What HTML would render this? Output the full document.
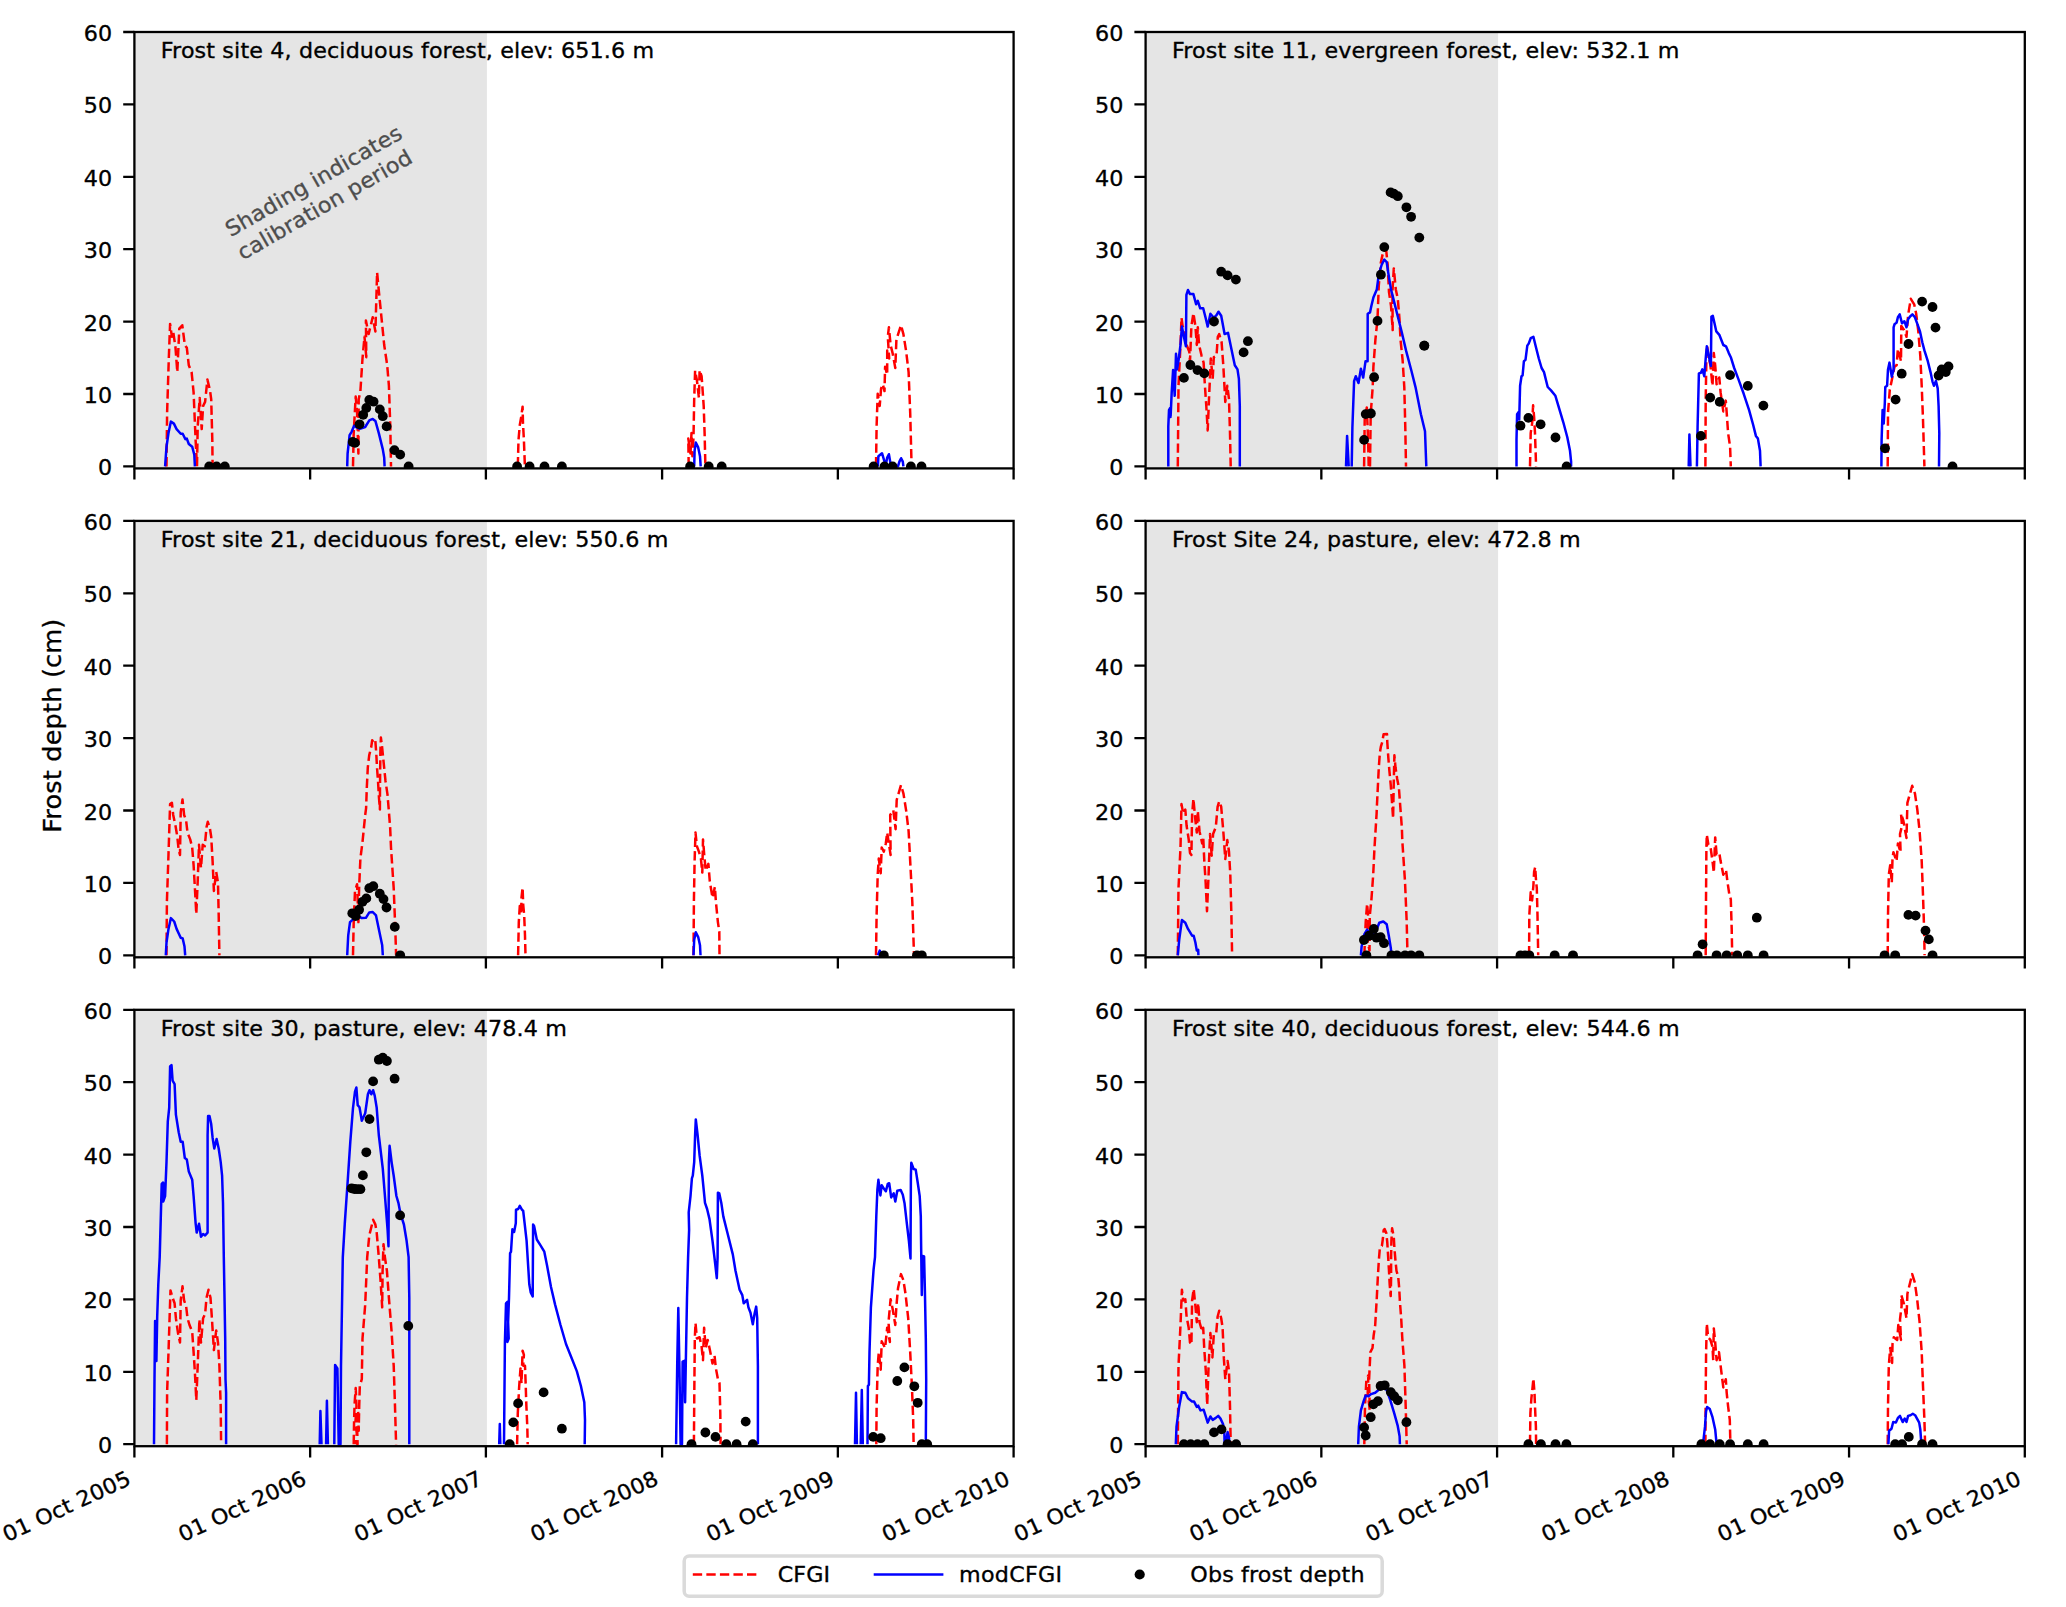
<!DOCTYPE html><html><head><meta charset="utf-8"><title>Frost depth</title>
<style>html,body{margin:0;padding:0;background:#fff}svg{display:block}text{font-family:"DejaVu Sans","Liberation Sans",sans-serif;fill:#000;stroke:#000;stroke-width:0.35px}</style></head><body>
<svg width="2066" height="1607" viewBox="0 0 2066 1607">
<rect width="2066" height="1607" fill="#fff"/>
<defs>
<clipPath id="c0"><rect x="134.4" y="32.0" width="879.2" height="436.4"/></clipPath>
<clipPath id="c1"><rect x="1145.6" y="32.0" width="879.2" height="436.4"/></clipPath>
<clipPath id="c2"><rect x="134.4" y="520.9" width="879.2" height="436.4"/></clipPath>
<clipPath id="c3"><rect x="1145.6" y="520.9" width="879.2" height="436.4"/></clipPath>
<clipPath id="c4"><rect x="134.4" y="1009.8" width="879.2" height="436.4"/></clipPath>
<clipPath id="c5"><rect x="1145.6" y="1009.8" width="879.2" height="436.4"/></clipPath>
</defs>
<g id="panel0">
<rect x="134.4" y="32.0" width="352.5" height="436.4" fill="#e5e5e5"/>
<g clip-path="url(#c0)" fill="none" stroke-linejoin="round">
<path d="M166.5,466.4 L167.1,412.8 L168.8,358.5 L170.1,323.9 L171.9,336.8 L173.2,331.4 L175.5,347.7 L177.3,372.1 L179.3,328.7 L182.3,325.3 L184.8,345.0 L186.8,347.7 L188.8,365.3 L191.6,372.1 L193.6,392.4 L195.6,439.9 L197.0,466.4 L197.7,426.4 L199.7,397.9 L201.7,429.1 L203.1,406.0 L205.1,401.9 L207.4,379.6 L209.9,389.7 L211.2,399.2 L212.3,439.9 L212.6,466.4" stroke="#ff0000" stroke-width="2.5" stroke-dasharray="9.35 4.2"/>
<path d="M353.0,466.4 L353.7,433.1 L355.7,396.5 L357.1,412.8 L358.4,453.5 L358.7,399.2 L360.4,391.1 L362.5,358.5 L364.5,336.8 L366.3,357.2 L365.9,320.5 L368.6,334.1 L370.6,326.0 L372.7,317.2 L375.4,331.4 L377.1,272.4 L378.8,290.7 L381.5,317.8 L384.2,345.0 L387.2,365.3 L388.9,385.7 L390.3,426.4 L391.0,466.4" stroke="#ff0000" stroke-width="2.5" stroke-dasharray="9.35 4.2"/>
<path d="M517.8,466.4 L518.5,439.9 L519.8,425.0 L521.2,416.9 L522.6,406.7 L523.0,423.6 L523.9,439.9 L524.9,466.4" stroke="#ff0000" stroke-width="2.5" stroke-dasharray="9.35 4.2"/>
<path d="M688.7,466.4 L688.3,438.6 L690.5,453.5 L691.5,433.1 L692.4,456.2 L693.5,437.2 L694.2,399.2 L695.1,370.7 L696.9,380.2 L698.9,397.9 L699.6,370.1 L701.6,376.2 L702.3,385.7 L703.7,406.0 L704.6,433.1 L705.4,466.4" stroke="#ff0000" stroke-width="2.5" stroke-dasharray="9.35 4.2"/>
<path d="M876.0,466.4 L876.6,426.4 L877.7,393.8 L879.7,406.0 L881.1,388.4 L882.8,384.3 L884.5,391.1 L885.1,366.7 L887.2,374.8 L887.2,350.4 L889.2,358.5 L887.8,336.8 L888.9,327.3 L890.6,345.0 L892.6,353.1 L895.3,368.0 L896.4,339.5 L901.0,325.3 L903.4,334.1 L906.2,351.7 L908.6,372.1 L910.2,412.8 L911.6,466.4" stroke="#ff0000" stroke-width="2.5" stroke-dasharray="9.35 4.2"/>
<path d="M165.1,466.4 L166.5,446.7 L168.5,433.1 L170.9,421.6 L173.9,423.6 L176.6,429.1 L180.7,433.8 L182.7,433.8 L185.4,439.2 L186.8,438.6 L188.8,444.0 L192.2,446.7 L194.3,454.8 L194.9,466.4" stroke="#0000ff" stroke-width="2.5"/>
<path d="M347.2,466.4 L347.6,453.5 L349.6,435.2 L351.6,431.8 L354.1,425.7 L357.1,427.7 L359.8,428.8 L365.2,427.0 L369.3,420.3 L372.7,418.9 L375.4,420.9 L378.8,433.1 L382.8,449.4 L384.2,457.6 L384.6,466.4" stroke="#0000ff" stroke-width="2.5"/>
<path d="M694.2,466.4 L694.6,450.8 L695.8,442.6 L698.2,447.4 L700.0,456.2 L700.7,466.4" stroke="#0000ff" stroke-width="2.5"/>
<path d="M877.9,466.4 L878.4,456.2 L882.0,453.2 L884.5,461.6 L885.5,466.4 L887.2,457.6 L888.9,454.2 L890.2,461.6 L890.6,466.4 L898.0,466.4 L899.4,461.6 L901.1,458.2 L902.8,461.6 L903.4,466.4" stroke="#0000ff" stroke-width="2.5"/>
<g fill="#000" stroke="none">
<circle cx="209.2" cy="466.4" r="4.9"/>
<circle cx="216.6" cy="466.4" r="4.9"/>
<circle cx="224.8" cy="466.4" r="4.9"/>
<circle cx="352.7" cy="442.0" r="4.9"/>
<circle cx="355.0" cy="442.9" r="4.9"/>
<circle cx="359.5" cy="424.3" r="4.9"/>
<circle cx="363.2" cy="414.8" r="4.9"/>
<circle cx="366.3" cy="408.0" r="4.9"/>
<circle cx="369.3" cy="399.9" r="4.9"/>
<circle cx="373.6" cy="401.7" r="4.9"/>
<circle cx="379.8" cy="409.4" r="4.9"/>
<circle cx="382.8" cy="416.2" r="4.9"/>
<circle cx="386.6" cy="426.4" r="4.9"/>
<circle cx="394.4" cy="450.1" r="4.9"/>
<circle cx="400.2" cy="454.6" r="4.9"/>
<circle cx="408.6" cy="466.4" r="4.9"/>
<circle cx="517.1" cy="466.4" r="4.9"/>
<circle cx="529.6" cy="466.4" r="4.9"/>
<circle cx="544.5" cy="466.4" r="4.9"/>
<circle cx="561.9" cy="466.4" r="4.9"/>
<circle cx="690.1" cy="466.4" r="4.9"/>
<circle cx="708.7" cy="466.4" r="4.9"/>
<circle cx="721.7" cy="466.4" r="4.9"/>
<circle cx="873.6" cy="466.4" r="4.9"/>
<circle cx="884.5" cy="466.4" r="4.9"/>
<circle cx="892.6" cy="466.4" r="4.9"/>
<circle cx="910.9" cy="466.4" r="4.9"/>
<circle cx="921.5" cy="466.4" r="4.9"/>
</g></g>
<rect x="134.4" y="32.0" width="879.2" height="436.4" fill="none" stroke="#000" stroke-width="2.3"/>
<path d="M134.4,466.40 h-11.2 M134.4,394.00 h-11.2 M134.4,321.60 h-11.2 M134.4,249.20 h-11.2 M134.4,176.80 h-11.2 M134.4,104.40 h-11.2 M134.4,32.00 h-11.2 M134.40,468.4 v11.2 M310.14,468.4 v11.2 M485.89,468.4 v11.2 M662.11,468.4 v11.2 M837.86,468.4 v11.2 M1013.60,468.4 v11.2" stroke="#000" stroke-width="2.3" fill="none"/>
<text transform="translate(112.4,475.4) scale(1,0.96)" font-size="22.2" text-anchor="end" letter-spacing="0.15">0</text>
<text transform="translate(112.4,403.0) scale(1,0.96)" font-size="22.2" text-anchor="end" letter-spacing="0.15">10</text>
<text transform="translate(112.4,330.6) scale(1,0.96)" font-size="22.2" text-anchor="end" letter-spacing="0.15">20</text>
<text transform="translate(112.4,258.2) scale(1,0.96)" font-size="22.2" text-anchor="end" letter-spacing="0.15">30</text>
<text transform="translate(112.4,185.8) scale(1,0.96)" font-size="22.2" text-anchor="end" letter-spacing="0.15">40</text>
<text transform="translate(112.4,113.4) scale(1,0.96)" font-size="22.2" text-anchor="end" letter-spacing="0.15">50</text>
<text transform="translate(112.4,41.0) scale(1,0.96)" font-size="22.2" text-anchor="end" letter-spacing="0.15">60</text>
<text transform="translate(160.8,58.0) scale(1,0.96)" font-size="22.2" text-anchor="start" letter-spacing="0.15">Frost site 4, deciduous forest, elev: 651.6 m</text>
</g>
<g id="panel1">
<rect x="1145.6" y="32.0" width="352.5" height="436.4" fill="#e5e5e5"/>
<g clip-path="url(#c1)" fill="none" stroke-linejoin="round">
<path d="M1177.8,466.4 L1178.5,385.7 L1180.5,345.0 L1181.5,317.8 L1182.6,326.0 L1184.6,331.4 L1186.6,345.0 L1189.3,351.7 L1190.0,361.2 L1191.4,326.0 L1193.4,313.1 L1195.4,326.0 L1196.8,345.0 L1197.8,327.3 L1199.1,345.0 L1201.6,355.8 L1203.6,362.6 L1204.9,385.7 L1206.3,406.0 L1207.7,430.4 L1209.0,399.2 L1210.8,358.5 L1212.7,378.9 L1213.8,357.2 L1216.5,355.8 L1217.8,336.8 L1219.2,334.1 L1221.6,342.2 L1223.3,365.3 L1225.3,401.9 L1227.3,385.7 L1229.0,399.2 L1230.0,433.1 L1230.7,466.4" stroke="#ff0000" stroke-width="2.5" stroke-dasharray="9.35 4.2"/>
<path d="M1364.1,466.4 L1364.7,419.6 L1366.8,407.4 L1368.1,439.9 L1368.7,466.4" stroke="#ff0000" stroke-width="2.5" stroke-dasharray="9.35 4.2"/>
<path d="M1370.0,466.4 L1370.7,414.2 L1372.7,387.1 L1373.4,366.7 L1375.4,339.6 L1377.5,319.2 L1378.8,285.3 L1380.9,262.2 L1383.6,250.0 L1386.3,251.4 L1387.7,265.0 L1389.0,292.1 L1391.0,305.7 L1392.7,330.1 L1392.4,292.1 L1393.8,268.4 L1395.8,289.4 L1397.8,298.9 L1399.5,319.2 L1400.5,339.6 L1402.6,359.9 L1404.3,387.1 L1405.3,427.8 L1406.0,466.4" stroke="#ff0000" stroke-width="2.5" stroke-dasharray="9.35 4.2"/>
<path d="M1530.0,466.4 L1530.7,433.1 L1532.1,423.6 L1533.1,405.3 L1534.1,416.9 L1535.0,433.1 L1536.1,466.4" stroke="#ff0000" stroke-width="2.5" stroke-dasharray="9.35 4.2"/>
<path d="M1705.4,466.4 L1705.7,399.2 L1706.4,358.5 L1707.1,345.6 L1708.4,355.8 L1710.4,365.3 L1712.5,385.7 L1713.8,353.1 L1715.2,365.3 L1716.6,384.3 L1719.3,377.5 L1720.6,392.4 L1723.3,411.4 L1725.8,400.6 L1726.7,412.8 L1728.1,433.1 L1730.1,446.7 L1730.8,466.4" stroke="#ff0000" stroke-width="2.5" stroke-dasharray="9.35 4.2"/>
<path d="M1887.7,466.4 L1888.0,412.8 L1889.8,389.7 L1891.8,380.2 L1894.5,366.7 L1896.6,365.3 L1897.9,349.0 L1901.0,361.2 L1901.3,326.0 L1904.0,330.0 L1906.5,336.8 L1908.1,315.1 L1910.8,298.8 L1914.2,304.3 L1916.2,313.8 L1918.3,331.4 L1920.3,355.8 L1921.7,385.7 L1923.0,419.6 L1924.4,466.4" stroke="#ff0000" stroke-width="2.5" stroke-dasharray="9.35 4.2"/>
<path d="M1168.3,466.4 L1168.3,426.4 L1169.0,410.1 L1170.1,408.0 L1170.6,416.9 L1171.7,392.4 L1173.1,370.1 L1174.7,395.8 L1176.0,353.8 L1177.1,369.4 L1178.8,358.5 L1180.5,345.0 L1181.9,326.6 L1183.9,336.8 L1185.9,346.3 L1186.4,294.8 L1188.0,290.0 L1190.0,294.1 L1193.4,294.1 L1196.1,304.3 L1197.8,300.9 L1200.2,308.3 L1203.2,308.3 L1205.6,317.8 L1207.7,326.6 L1210.4,313.8 L1213.8,317.8 L1216.5,315.1 L1218.5,311.7 L1221.2,315.8 L1224.6,334.1 L1228.0,332.8 L1230.0,342.2 L1232.8,355.8 L1234.8,365.3 L1237.5,369.4 L1238.9,378.9 L1239.8,406.0 L1239.8,466.4" stroke="#0000ff" stroke-width="2.5"/>
<path d="M1346.0,466.4 L1347.1,435.9 L1348.7,466.4" stroke="#0000ff" stroke-width="2.5"/>
<path d="M1351.7,466.4 L1352.4,427.2 L1354.1,381.1 L1355.8,376.2 L1358.5,383.0 L1360.9,368.7 L1363.2,377.6 L1365.5,361.3 L1367.6,361.3 L1367.7,313.8 L1370.0,312.4 L1371.4,305.7 L1373.4,297.5 L1376.8,289.4 L1378.8,274.5 L1381.6,265.0 L1384.3,259.5 L1386.7,262.2 L1388.3,273.1 L1391.0,289.4 L1394.4,302.9 L1397.8,316.5 L1401.9,332.8 L1406.0,350.4 L1411.4,370.8 L1415.5,387.1 L1420.9,414.2 L1425.0,431.3 L1426.3,466.4" stroke="#0000ff" stroke-width="2.5"/>
<path d="M1516.5,466.4 L1516.5,439.9 L1517.1,414.1 L1518.5,412.1 L1519.2,419.6 L1520.1,385.7 L1521.5,376.2 L1522.6,375.5 L1523.9,361.2 L1525.5,359.9 L1527.3,345.6 L1528.7,343.6 L1530.7,338.2 L1533.4,336.8 L1535.4,345.0 L1538.8,358.5 L1541.6,368.0 L1544.0,372.1 L1547.7,387.0 L1551.0,390.4 L1555.4,395.8 L1559.2,408.7 L1563.3,422.3 L1567.3,437.2 L1570.0,450.8 L1571.1,461.6 L1571.1,466.4" stroke="#0000ff" stroke-width="2.5"/>
<path d="M1688.7,466.4 L1689.4,434.5 L1690.5,466.4" stroke="#0000ff" stroke-width="2.5"/>
<path d="M1696.9,466.4 L1697.6,426.4 L1698.9,373.4 L1700.9,372.8 L1702.3,369.4 L1704.3,376.2 L1705.7,358.5 L1706.8,346.3 L1708.7,355.8 L1710.9,366.0 L1711.4,316.5 L1712.8,315.8 L1714.5,323.3 L1716.3,331.4 L1719.3,334.8 L1723.3,345.0 L1726.0,346.3 L1728.8,353.1 L1730.8,357.2 L1734.2,368.0 L1738.3,378.9 L1743.7,393.8 L1749.1,410.1 L1753.2,425.0 L1755.9,435.9 L1757.9,438.6 L1760.0,450.8 L1760.6,466.4" stroke="#0000ff" stroke-width="2.5"/>
<path d="M1881.4,466.4 L1881.6,439.9 L1882.6,410.1 L1883.7,423.6 L1884.8,403.3 L1885.3,387.0 L1887.1,385.7 L1888.0,369.4 L1889.5,362.6 L1891.8,376.8 L1893.6,369.4 L1893.6,327.3 L1894.5,324.3 L1896.6,322.6 L1897.9,317.2 L1899.7,314.4 L1902.0,323.3 L1904.4,321.2 L1906.5,327.3 L1908.1,319.2 L1910.1,316.5 L1912.4,314.4 L1914.9,317.2 L1917.6,324.6 L1920.0,331.4 L1922.3,342.2 L1924.4,350.4 L1927.8,361.2 L1930.5,372.1 L1932.5,381.6 L1933.9,385.7 L1935.9,380.9 L1937.7,388.4 L1938.6,406.0 L1939.3,433.1 L1939.0,466.4" stroke="#0000ff" stroke-width="2.5"/>
<g fill="#000" stroke="none">
<circle cx="1183.9" cy="377.9" r="4.9"/>
<circle cx="1190.4" cy="365.0" r="4.9"/>
<circle cx="1197.5" cy="370.1" r="4.9"/>
<circle cx="1204.3" cy="373.4" r="4.9"/>
<circle cx="1214.0" cy="321.5" r="4.9"/>
<circle cx="1221.2" cy="271.7" r="4.9"/>
<circle cx="1227.6" cy="275.4" r="4.9"/>
<circle cx="1235.9" cy="279.6" r="4.9"/>
<circle cx="1243.6" cy="352.4" r="4.9"/>
<circle cx="1247.9" cy="341.2" r="4.9"/>
<circle cx="1364.1" cy="439.9" r="4.9"/>
<circle cx="1365.7" cy="414.1" r="4.9"/>
<circle cx="1370.9" cy="413.5" r="4.9"/>
<circle cx="1374.1" cy="377.2" r="4.9"/>
<circle cx="1377.5" cy="320.9" r="4.9"/>
<circle cx="1380.9" cy="274.7" r="4.9"/>
<circle cx="1424.3" cy="345.6" r="4.9"/>
<circle cx="1384.3" cy="247.1" r="4.9"/>
<circle cx="1390.6" cy="192.4" r="4.9"/>
<circle cx="1393.8" cy="193.7" r="4.9"/>
<circle cx="1397.8" cy="196.2" r="4.9"/>
<circle cx="1406.4" cy="207.3" r="4.9"/>
<circle cx="1411.1" cy="216.8" r="4.9"/>
<circle cx="1419.3" cy="237.6" r="4.9"/>
<circle cx="1424.3" cy="345.7" r="4.9"/>
<circle cx="1520.5" cy="425.7" r="4.9"/>
<circle cx="1528.4" cy="417.9" r="4.9"/>
<circle cx="1540.6" cy="424.3" r="4.9"/>
<circle cx="1555.5" cy="437.5" r="4.9"/>
<circle cx="1566.6" cy="466.4" r="4.9"/>
<circle cx="1700.9" cy="435.9" r="4.9"/>
<circle cx="1710.2" cy="397.6" r="4.9"/>
<circle cx="1719.7" cy="401.9" r="4.9"/>
<circle cx="1730.1" cy="375.1" r="4.9"/>
<circle cx="1747.8" cy="385.9" r="4.9"/>
<circle cx="1763.4" cy="405.6" r="4.9"/>
<circle cx="1885.0" cy="448.3" r="4.9"/>
<circle cx="1895.6" cy="399.6" r="4.9"/>
<circle cx="1901.7" cy="373.7" r="4.9"/>
<circle cx="1908.5" cy="344.0" r="4.9"/>
<circle cx="1922.1" cy="301.6" r="4.9"/>
<circle cx="1932.5" cy="307.0" r="4.9"/>
<circle cx="1935.5" cy="327.6" r="4.9"/>
<circle cx="1938.6" cy="375.5" r="4.9"/>
<circle cx="1941.7" cy="369.4" r="4.9"/>
<circle cx="1945.8" cy="372.1" r="4.9"/>
<circle cx="1948.5" cy="366.4" r="4.9"/>
<circle cx="1952.5" cy="466.4" r="4.9"/>
</g></g>
<rect x="1145.6" y="32.0" width="879.2" height="436.4" fill="none" stroke="#000" stroke-width="2.3"/>
<path d="M1145.6,466.40 h-11.2 M1145.6,394.00 h-11.2 M1145.6,321.60 h-11.2 M1145.6,249.20 h-11.2 M1145.6,176.80 h-11.2 M1145.6,104.40 h-11.2 M1145.6,32.00 h-11.2 M1145.60,468.4 v11.2 M1321.34,468.4 v11.2 M1497.09,468.4 v11.2 M1673.31,468.4 v11.2 M1849.06,468.4 v11.2 M2024.80,468.4 v11.2" stroke="#000" stroke-width="2.3" fill="none"/>
<text transform="translate(1123.6,475.4) scale(1,0.96)" font-size="22.2" text-anchor="end" letter-spacing="0.15">0</text>
<text transform="translate(1123.6,403.0) scale(1,0.96)" font-size="22.2" text-anchor="end" letter-spacing="0.15">10</text>
<text transform="translate(1123.6,330.6) scale(1,0.96)" font-size="22.2" text-anchor="end" letter-spacing="0.15">20</text>
<text transform="translate(1123.6,258.2) scale(1,0.96)" font-size="22.2" text-anchor="end" letter-spacing="0.15">30</text>
<text transform="translate(1123.6,185.8) scale(1,0.96)" font-size="22.2" text-anchor="end" letter-spacing="0.15">40</text>
<text transform="translate(1123.6,113.4) scale(1,0.96)" font-size="22.2" text-anchor="end" letter-spacing="0.15">50</text>
<text transform="translate(1123.6,41.0) scale(1,0.96)" font-size="22.2" text-anchor="end" letter-spacing="0.15">60</text>
<text transform="translate(1172.0,58.0) scale(1,0.96)" font-size="22.2" text-anchor="start" letter-spacing="0.15">Frost site 11, evergreen forest, elev: 532.1 m</text>
</g>
<g id="panel2">
<rect x="134.4" y="520.9" width="352.5" height="436.4" fill="#e5e5e5"/>
<g clip-path="url(#c2)" fill="none" stroke-linejoin="round">
<path d="M166.5,955.3 L166.9,901.8 L168.5,854.3 L170.1,804.1 L171.9,802.8 L173.2,815.0 L175.5,825.8 L177.3,836.7 L178.7,850.2 L180.0,855.0 L180.7,812.3 L182.5,799.4 L184.1,815.0 L186.1,820.4 L187.5,832.6 L190.2,839.4 L192.2,847.5 L193.6,865.2 L194.9,888.2 L196.3,914.0 L197.7,881.4 L199.0,844.8 L201.0,867.9 L202.7,844.8 L204.8,846.2 L206.5,827.2 L207.8,821.8 L209.9,828.5 L211.2,836.7 L212.6,861.1 L213.9,890.9 L216.2,871.9 L218.0,882.8 L218.7,915.4 L219.4,955.3" stroke="#ff0000" stroke-width="2.5" stroke-dasharray="9.35 4.2"/>
<path d="M353.0,955.3 L353.7,922.1 L355.0,890.9 L357.1,884.2 L358.4,922.1 L359.1,888.2 L360.4,858.4 L362.5,842.1 L365.2,815.0 L366.1,808.2 L366.8,787.8 L367.8,767.5 L369.2,755.3 L371.2,747.1 L372.2,740.3 L373.6,742.4 L375.3,740.3 L376.3,753.9 L377.0,767.5 L378.0,781.0 L379.0,798.0 L379.9,809.5 L380.0,787.8 L380.2,767.5 L380.4,750.5 L380.9,737.6 L382.1,747.1 L383.8,764.1 L385.5,781.0 L387.5,794.6 L388.9,811.6 L390.2,828.5 L391.0,847.5 L393.7,888.2 L395.3,928.9 L396.1,955.3" stroke="#ff0000" stroke-width="2.5" stroke-dasharray="9.35 4.2"/>
<path d="M518.1,955.3 L518.8,922.1 L519.8,905.9 L521.2,911.3 L521.5,897.7 L522.6,887.5 L523.2,904.5 L524.2,915.4 L525.0,935.7 L525.5,955.3" stroke="#ff0000" stroke-width="2.5" stroke-dasharray="9.35 4.2"/>
<path d="M693.5,955.3 L693.9,901.8 L694.6,861.1 L695.5,832.6 L696.9,846.2 L698.9,851.6 L700.9,858.4 L702.3,872.6 L703.0,839.4 L704.3,855.7 L705.7,870.6 L708.4,863.8 L709.8,881.4 L712.5,897.7 L714.9,886.9 L715.9,901.8 L717.9,922.1 L719.3,931.6 L719.5,955.3" stroke="#ff0000" stroke-width="2.5" stroke-dasharray="9.35 4.2"/>
<path d="M876.0,955.3 L876.6,915.4 L877.7,874.7 L878.8,858.4 L880.7,873.3 L881.7,847.5 L883.8,851.6 L885.8,843.5 L887.2,832.6 L890.6,855.0 L890.2,815.0 L893.3,810.2 L895.6,829.2 L896.7,800.0 L901.0,785.1 L903.4,793.3 L906.2,810.9 L908.6,831.2 L910.2,861.1 L912.3,901.8 L914.0,955.3" stroke="#ff0000" stroke-width="2.5" stroke-dasharray="9.35 4.2"/>
<path d="M165.8,955.3 L166.5,942.5 L168.5,928.9 L170.9,918.1 L174.2,921.5 L176.6,928.9 L180.7,937.7 L182.7,938.4 L184.5,946.6 L185.2,955.3" stroke="#0000ff" stroke-width="2.5"/>
<path d="M347.2,955.3 L348.2,935.7 L350.0,922.1 L353.0,919.4 L357.1,915.4 L361.8,918.1 L365.9,917.8 L369.3,912.4 L372.7,912.0 L376.0,915.4 L378.8,928.9 L382.2,945.2 L382.8,955.3" stroke="#0000ff" stroke-width="2.5"/>
<path d="M693.5,955.3 L694.2,939.8 L695.8,932.3 L698.2,937.1 L700.0,945.2 L700.5,955.3" stroke="#0000ff" stroke-width="2.5"/>
<path d="M877.9,955.3 L879.7,950.6 L881.7,955.3" stroke="#0000ff" stroke-width="2.5"/>
<g fill="#000" stroke="none">
<circle cx="352.3" cy="913.3" r="4.9"/>
<circle cx="355.7" cy="916.0" r="4.9"/>
<circle cx="359.1" cy="909.7" r="4.9"/>
<circle cx="362.5" cy="901.8" r="4.9"/>
<circle cx="366.3" cy="898.4" r="4.9"/>
<circle cx="369.3" cy="888.2" r="4.9"/>
<circle cx="373.3" cy="886.2" r="4.9"/>
<circle cx="379.8" cy="893.7" r="4.9"/>
<circle cx="383.5" cy="899.1" r="4.9"/>
<circle cx="386.5" cy="907.5" r="4.9"/>
<circle cx="394.8" cy="926.9" r="4.9"/>
<circle cx="400.2" cy="955.3" r="4.9"/>
<circle cx="883.8" cy="955.3" r="4.9"/>
<circle cx="917.0" cy="955.3" r="4.9"/>
<circle cx="921.8" cy="955.3" r="4.9"/>
</g></g>
<rect x="134.4" y="520.9" width="879.2" height="436.4" fill="none" stroke="#000" stroke-width="2.3"/>
<path d="M134.4,955.30 h-11.2 M134.4,882.90 h-11.2 M134.4,810.50 h-11.2 M134.4,738.10 h-11.2 M134.4,665.70 h-11.2 M134.4,593.30 h-11.2 M134.4,520.90 h-11.2 M134.40,957.3 v11.2 M310.14,957.3 v11.2 M485.89,957.3 v11.2 M662.11,957.3 v11.2 M837.86,957.3 v11.2 M1013.60,957.3 v11.2" stroke="#000" stroke-width="2.3" fill="none"/>
<text transform="translate(112.4,964.3) scale(1,0.96)" font-size="22.2" text-anchor="end" letter-spacing="0.15">0</text>
<text transform="translate(112.4,891.9) scale(1,0.96)" font-size="22.2" text-anchor="end" letter-spacing="0.15">10</text>
<text transform="translate(112.4,819.5) scale(1,0.96)" font-size="22.2" text-anchor="end" letter-spacing="0.15">20</text>
<text transform="translate(112.4,747.1) scale(1,0.96)" font-size="22.2" text-anchor="end" letter-spacing="0.15">30</text>
<text transform="translate(112.4,674.7) scale(1,0.96)" font-size="22.2" text-anchor="end" letter-spacing="0.15">40</text>
<text transform="translate(112.4,602.3) scale(1,0.96)" font-size="22.2" text-anchor="end" letter-spacing="0.15">50</text>
<text transform="translate(112.4,529.9) scale(1,0.96)" font-size="22.2" text-anchor="end" letter-spacing="0.15">60</text>
<text transform="translate(160.8,546.9) scale(1,0.96)" font-size="22.2" text-anchor="start" letter-spacing="0.15">Frost site 21, deciduous forest, elev: 550.6 m</text>
</g>
<g id="panel3">
<rect x="1145.6" y="520.9" width="352.5" height="436.4" fill="#e5e5e5"/>
<g clip-path="url(#c3)" fill="none" stroke-linejoin="round">
<path d="M1177.8,955.3 L1178.5,888.2 L1180.5,847.5 L1181.5,804.1 L1183.2,813.6 L1185.3,809.5 L1186.6,825.8 L1188.7,839.4 L1190.0,853.0 L1191.4,855.0 L1192.1,815.0 L1193.4,798.7 L1195.4,820.4 L1196.8,832.6 L1197.8,810.9 L1199.5,831.2 L1202.2,843.5 L1203.2,836.7 L1204.3,861.1 L1205.6,881.4 L1207.0,911.3 L1208.6,874.7 L1210.0,834.0 L1211.7,855.7 L1213.1,834.0 L1215.8,827.2 L1217.6,806.8 L1219.2,801.4 L1221.2,806.8 L1223.3,831.2 L1225.3,859.1 L1227.3,840.1 L1229.0,851.6 L1230.3,874.7 L1231.4,915.4 L1232.1,955.3" stroke="#ff0000" stroke-width="2.5" stroke-dasharray="9.35 4.2"/>
<path d="M1364.3,955.3 L1365.7,922.1 L1367.1,903.8 L1368.4,919.4 L1367.3,939.8 L1369.5,950.6 L1369.8,915.4 L1371.4,899.8 L1373.2,874.7 L1374.5,847.5 L1376.6,813.6 L1376.8,808.2 L1377.8,787.8 L1378.8,767.5 L1379.9,752.6 L1380.9,746.5 L1382.2,742.4 L1383.6,734.2 L1387.0,733.9 L1387.3,742.4 L1388.3,757.3 L1389.4,770.9 L1390.7,784.4 L1391.7,798.0 L1393.1,818.4 L1393.4,801.4 L1393.8,781.0 L1394.1,767.5 L1394.4,755.3 L1395.5,767.5 L1397.2,779.0 L1398.9,787.8 L1399.9,801.4 L1400.9,815.0 L1401.9,828.5 L1402.3,840.7 L1405.0,881.4 L1406.7,922.1 L1407.5,955.3" stroke="#ff0000" stroke-width="2.5" stroke-dasharray="9.35 4.2"/>
<path d="M1529.1,955.3 L1529.3,915.4 L1530.7,892.3 L1532.1,900.4 L1533.4,885.5 L1534.1,871.9 L1535.2,867.2 L1536.1,881.4 L1536.8,888.2 L1537.5,915.4 L1538.2,955.3" stroke="#ff0000" stroke-width="2.5" stroke-dasharray="9.35 4.2"/>
<path d="M1705.7,955.3 L1706.0,901.8 L1706.4,847.5 L1706.8,834.6 L1708.4,844.8 L1710.4,846.2 L1712.5,861.1 L1713.8,872.6 L1715.2,837.4 L1716.6,854.3 L1719.3,853.0 L1720.6,861.1 L1723.3,874.7 L1726.0,869.9 L1727.4,881.4 L1729.4,895.0 L1730.8,899.1 L1731.7,928.9 L1732.2,955.3" stroke="#ff0000" stroke-width="2.5" stroke-dasharray="9.35 4.2"/>
<path d="M1887.7,955.3 L1888.0,915.4 L1888.8,874.7 L1890.2,865.2 L1891.8,882.8 L1892.5,858.4 L1893.4,852.3 L1896.6,861.1 L1897.9,843.5 L1900.6,852.3 L1900.0,834.0 L1902.0,825.8 L1901.0,813.6 L1903.3,820.4 L1906.5,838.0 L1907.4,802.8 L1912.2,785.8 L1914.9,793.3 L1917.3,809.5 L1919.6,831.2 L1921.7,861.1 L1923.0,895.0 L1924.1,928.9 L1924.6,955.3" stroke="#ff0000" stroke-width="2.5" stroke-dasharray="9.35 4.2"/>
<path d="M1177.8,955.3 L1179.2,939.8 L1181.9,920.1 L1185.3,922.8 L1188.0,928.9 L1192.1,935.7 L1193.7,935.7 L1195.4,942.5 L1196.8,950.6 L1198.2,949.9 L1198.4,955.3" stroke="#0000ff" stroke-width="2.5"/>
<path d="M1360.9,955.3 L1361.6,946.6 L1364.3,934.3 L1367.1,929.6 L1370.4,934.3 L1375.2,933.0 L1379.3,922.8 L1383.3,921.5 L1386.7,924.2 L1388.8,935.7 L1390.8,947.9 L1391.5,955.3" stroke="#0000ff" stroke-width="2.5"/>
<g fill="#000" stroke="none">
<circle cx="1363.9" cy="940.0" r="4.9"/>
<circle cx="1366.4" cy="955.3" r="4.9"/>
<circle cx="1369.1" cy="935.7" r="4.9"/>
<circle cx="1373.8" cy="928.9" r="4.9"/>
<circle cx="1376.6" cy="937.7" r="4.9"/>
<circle cx="1380.6" cy="937.1" r="4.9"/>
<circle cx="1384.0" cy="943.2" r="4.9"/>
<circle cx="1391.5" cy="955.3" r="4.9"/>
<circle cx="1396.9" cy="955.3" r="4.9"/>
<circle cx="1405.0" cy="955.3" r="4.9"/>
<circle cx="1411.1" cy="955.3" r="4.9"/>
<circle cx="1419.3" cy="955.3" r="4.9"/>
<circle cx="1520.5" cy="955.3" r="4.9"/>
<circle cx="1525.0" cy="955.3" r="4.9"/>
<circle cx="1529.3" cy="955.3" r="4.9"/>
<circle cx="1554.7" cy="955.3" r="4.9"/>
<circle cx="1573.0" cy="955.3" r="4.9"/>
<circle cx="1697.6" cy="955.3" r="4.9"/>
<circle cx="1702.6" cy="944.3" r="4.9"/>
<circle cx="1716.6" cy="955.3" r="4.9"/>
<circle cx="1726.7" cy="955.3" r="4.9"/>
<circle cx="1737.2" cy="955.3" r="4.9"/>
<circle cx="1747.8" cy="955.3" r="4.9"/>
<circle cx="1763.6" cy="955.3" r="4.9"/>
<circle cx="1756.8" cy="917.7" r="4.9"/>
<circle cx="1884.6" cy="955.3" r="4.9"/>
<circle cx="1895.2" cy="955.3" r="4.9"/>
<circle cx="1908.4" cy="914.9" r="4.9"/>
<circle cx="1915.6" cy="915.6" r="4.9"/>
<circle cx="1925.5" cy="930.6" r="4.9"/>
<circle cx="1928.8" cy="939.4" r="4.9"/>
<circle cx="1932.5" cy="955.3" r="4.9"/>
</g></g>
<rect x="1145.6" y="520.9" width="879.2" height="436.4" fill="none" stroke="#000" stroke-width="2.3"/>
<path d="M1145.6,955.30 h-11.2 M1145.6,882.90 h-11.2 M1145.6,810.50 h-11.2 M1145.6,738.10 h-11.2 M1145.6,665.70 h-11.2 M1145.6,593.30 h-11.2 M1145.6,520.90 h-11.2 M1145.60,957.3 v11.2 M1321.34,957.3 v11.2 M1497.09,957.3 v11.2 M1673.31,957.3 v11.2 M1849.06,957.3 v11.2 M2024.80,957.3 v11.2" stroke="#000" stroke-width="2.3" fill="none"/>
<text transform="translate(1123.6,964.3) scale(1,0.96)" font-size="22.2" text-anchor="end" letter-spacing="0.15">0</text>
<text transform="translate(1123.6,891.9) scale(1,0.96)" font-size="22.2" text-anchor="end" letter-spacing="0.15">10</text>
<text transform="translate(1123.6,819.5) scale(1,0.96)" font-size="22.2" text-anchor="end" letter-spacing="0.15">20</text>
<text transform="translate(1123.6,747.1) scale(1,0.96)" font-size="22.2" text-anchor="end" letter-spacing="0.15">30</text>
<text transform="translate(1123.6,674.7) scale(1,0.96)" font-size="22.2" text-anchor="end" letter-spacing="0.15">40</text>
<text transform="translate(1123.6,602.3) scale(1,0.96)" font-size="22.2" text-anchor="end" letter-spacing="0.15">50</text>
<text transform="translate(1123.6,529.9) scale(1,0.96)" font-size="22.2" text-anchor="end" letter-spacing="0.15">60</text>
<text transform="translate(1172.0,546.9) scale(1,0.96)" font-size="22.2" text-anchor="start" letter-spacing="0.15">Frost Site 24, pasture, elev: 472.8 m</text>
</g>
<g id="panel4">
<rect x="134.4" y="1009.8" width="352.5" height="436.4" fill="#e5e5e5"/>
<g clip-path="url(#c4)" fill="none" stroke-linejoin="round">
<path d="M166.9,1444.2 L167.1,1392.8 L168.5,1352.1 L169.8,1311.4 L170.5,1290.4 L172.6,1297.8 L174.6,1303.3 L175.9,1318.2 L178.0,1333.1 L180.0,1342.6 L180.7,1300.5 L182.5,1286.3 L184.1,1300.5 L186.1,1306.0 L187.5,1318.2 L189.5,1325.0 L192.2,1331.7 L193.6,1352.1 L194.9,1372.4 L196.3,1400.3 L197.7,1365.7 L199.4,1319.5 L201.0,1342.6 L203.1,1318.2 L205.1,1314.1 L206.5,1297.8 L208.5,1289.7 L210.5,1297.8 L211.9,1318.2 L213.9,1350.1 L216.2,1330.4 L218.0,1342.6 L219.4,1365.7 L220.7,1406.4 L221.1,1444.2" stroke="#ff0000" stroke-width="2.5" stroke-dasharray="9.35 4.2"/>
<path d="M353.7,1444.2 L354.1,1419.9 L354.6,1403.6 L355.7,1388.0 L356.5,1406.4 L355.4,1422.6 L356.8,1433.5 L355.7,1443.0 L357.6,1444.2 L357.1,1426.7 L358.1,1410.4 L358.7,1430.8 L359.2,1406.4 L359.8,1386.0 L361.8,1379.2 L362.5,1338.5 L365.2,1304.6 L367.2,1257.1 L369.3,1235.4 L371.3,1227.3 L373.1,1219.8 L375.4,1224.6 L376.7,1232.7 L378.8,1257.1 L380.8,1284.3 L382.2,1307.3 L382.6,1270.7 L383.5,1244.2 L384.9,1257.1 L386.9,1270.7 L388.9,1297.8 L391.6,1331.7 L393.7,1365.7 L395.0,1406.4 L396.1,1444.2" stroke="#ff0000" stroke-width="2.5" stroke-dasharray="9.35 4.2"/>
<path d="M517.1,1444.2 L517.8,1413.1 L519.2,1386.0 L520.5,1368.4 L521.5,1383.3 L522.6,1350.7 L523.9,1354.8 L523.2,1365.7 L525.0,1365.7 L525.5,1379.2 L526.4,1406.4 L527.3,1426.7 L527.7,1444.2" stroke="#ff0000" stroke-width="2.5" stroke-dasharray="9.35 4.2"/>
<path d="M693.9,1444.2 L694.3,1392.8 L694.8,1338.5 L695.5,1322.9 L696.9,1338.5 L699.6,1337.2 L701.6,1346.7 L703.0,1360.2 L704.1,1327.7 L705.7,1348.0 L707.7,1339.9 L709.8,1349.4 L712.5,1363.6 L714.5,1355.5 L715.9,1368.4 L717.9,1379.2 L719.5,1383.3 L720.3,1413.1 L720.6,1444.2" stroke="#ff0000" stroke-width="2.5" stroke-dasharray="9.35 4.2"/>
<path d="M876.3,1444.2 L876.6,1406.4 L877.7,1365.7 L878.8,1352.1 L880.7,1369.7 L881.7,1341.2 L885.1,1348.0 L887.2,1327.7 L889.9,1341.9 L888.5,1322.2 L890.6,1299.2 L892.6,1308.7 L895.3,1325.0 L896.4,1306.0 L898.0,1288.3 L901.0,1274.1 L903.4,1280.2 L905.5,1293.8 L908.2,1318.2 L910.2,1352.1 L911.9,1386.0 L913.2,1419.9 L913.6,1444.2" stroke="#ff0000" stroke-width="2.5" stroke-dasharray="9.35 4.2"/>
<path d="M154.0,1444.2 L154.5,1379.2 L155.1,1320.9 L155.7,1325.0 L156.4,1360.9 L157.2,1316.8 L158.3,1284.3 L159.7,1257.1 L161.0,1209.6 L161.7,1183.8 L163.1,1182.5 L163.3,1201.4 L165.1,1196.0 L166.5,1162.1 L167.8,1121.4 L169.2,1107.8 L170.1,1066.5 L171.5,1065.1 L172.6,1080.7 L174.6,1084.1 L175.9,1114.6 L178.7,1132.3 L180.7,1141.8 L182.7,1141.8 L184.8,1158.0 L186.8,1159.4 L188.8,1171.6 L192.2,1179.7 L193.6,1196.0 L195.6,1223.1 L196.7,1232.6 L199.0,1223.8 L201.0,1236.7 L203.1,1234.0 L205.1,1235.4 L207.6,1232.6 L207.6,1135.0 L208.1,1116.0 L209.5,1116.0 L211.2,1124.1 L212.6,1137.7 L214.3,1148.5 L216.6,1139.0 L218.7,1148.5 L220.7,1162.1 L222.1,1175.7 L223.0,1202.8 L223.8,1257.1 L224.4,1291.0 L225.2,1338.5 L225.5,1379.2 L226.1,1392.8 L226.1,1444.2" stroke="#0000ff" stroke-width="2.5"/>
<path d="M319.7,1444.2 L320.4,1411.1 L321.5,1444.2" stroke="#0000ff" stroke-width="2.5"/>
<path d="M326.1,1444.2 L326.9,1400.7 L327.9,1444.2" stroke="#0000ff" stroke-width="2.5"/>
<path d="M334.3,1444.2 L335.1,1365.0 L337.4,1368.4 L338.7,1444.2 L340.5,1444.2 L341.0,1365.7 L342.8,1257.1 L344.8,1223.1 L347.6,1182.5 L350.3,1141.8 L353.0,1107.8 L355.0,1091.6 L356.4,1087.5 L357.7,1105.1 L359.5,1107.2 L361.8,1120.7 L365.2,1113.3 L367.9,1094.3 L369.5,1090.2 L371.3,1094.3 L373.1,1090.2 L374.7,1095.6 L376.7,1107.8 L378.8,1135.0 L382.8,1168.9 L385.5,1202.8 L387.6,1229.9 L388.5,1246.2 L388.9,1162.1 L389.6,1145.8 L391.6,1162.1 L393.7,1175.7 L396.4,1196.0 L398.4,1202.8 L400.5,1213.7 L403.9,1224.5 L406.6,1240.8 L408.6,1257.1 L409.3,1297.8 L409.3,1444.2" stroke="#0000ff" stroke-width="2.5"/>
<path d="M499.2,1444.2 L499.8,1424.0 L500.3,1444.2" stroke="#0000ff" stroke-width="2.5"/>
<path d="M504.0,1444.2 L504.9,1342.6 L506.0,1303.3 L507.4,1301.9 L508.7,1338.5 L507.4,1341.9 L509.0,1297.8 L510.1,1253.1 L511.0,1251.7 L512.4,1229.3 L514.1,1232.0 L515.8,1223.2 L516.0,1209.7 L518.2,1209.0 L519.8,1205.9 L521.9,1209.7 L523.2,1211.0 L524.6,1223.2 L526.6,1240.9 L529.3,1284.3 L530.7,1292.4 L532.7,1296.5 L533.1,1224.6 L534.1,1225.9 L536.8,1239.5 L540.2,1244.9 L544.3,1251.7 L547.0,1265.3 L551.0,1287.0 L555.1,1304.6 L560.5,1325.0 L566.0,1344.0 L571.4,1357.5 L576.8,1371.1 L580.9,1386.0 L584.3,1402.3 L585.0,1419.9 L584.7,1444.2" stroke="#0000ff" stroke-width="2.5"/>
<path d="M676.1,1444.2 L677.2,1365.7 L678.3,1308.0 L679.4,1365.7 L680.6,1444.2 L682.0,1444.2 L682.6,1361.6 L684.3,1360.9 L685.1,1402.3 L686.0,1352.1 L687.0,1297.8 L688.1,1257.1 L689.1,1230.0 L688.7,1212.4 L690.5,1196.1 L691.9,1178.4 L692.8,1175.7 L694.2,1162.2 L695.1,1135.0 L695.8,1119.4 L697.6,1135.0 L699.6,1155.4 L702.3,1175.7 L705.0,1202.9 L707.1,1209.0 L709.5,1219.1 L712.5,1240.9 L715.2,1263.9 L716.8,1278.2 L717.6,1257.1 L717.9,1192.7 L719.3,1193.4 L721.3,1202.9 L723.3,1216.4 L727.4,1232.7 L732.8,1254.4 L735.5,1270.7 L739.6,1289.7 L742.3,1295.1 L743.7,1303.3 L747.1,1299.9 L748.4,1307.3 L750.5,1312.8 L752.8,1324.3 L754.5,1314.1 L756.2,1306.6 L757.2,1318.2 L757.9,1365.7 L757.9,1444.2" stroke="#0000ff" stroke-width="2.5"/>
<path d="M855.0,1444.2 L856.0,1392.8 L856.9,1444.2" stroke="#0000ff" stroke-width="2.5"/>
<path d="M860.7,1444.2 L861.8,1390.1 L862.8,1444.2" stroke="#0000ff" stroke-width="2.5"/>
<path d="M867.5,1444.2 L867.9,1386.0 L868.9,1384.7 L869.5,1352.1 L870.9,1307.3 L873.6,1269.3 L875.0,1257.1 L876.3,1216.4 L877.4,1189.3 L878.4,1179.8 L880.4,1195.4 L881.7,1185.2 L883.8,1188.6 L885.8,1191.3 L887.8,1183.9 L889.2,1183.2 L891.2,1197.4 L893.7,1193.4 L895.3,1201.5 L897.3,1190.7 L900.7,1190.0 L902.8,1194.7 L904.5,1202.9 L906.8,1223.2 L908.9,1240.9 L910.5,1258.5 L910.9,1175.7 L911.3,1162.8 L913.6,1169.0 L915.7,1169.6 L917.7,1182.5 L919.7,1196.1 L920.8,1216.4 L921.1,1243.6 L921.8,1295.1 L922.4,1255.8 L924.1,1256.5 L924.9,1291.0 L925.8,1338.5 L926.2,1379.2 L925.8,1444.2" stroke="#0000ff" stroke-width="2.5"/>
<g fill="#000" stroke="none">
<circle cx="351.6" cy="1188.3" r="4.9"/>
<circle cx="354.3" cy="1189.0" r="4.9"/>
<circle cx="357.1" cy="1189.2" r="4.9"/>
<circle cx="360.4" cy="1189.2" r="4.9"/>
<circle cx="362.9" cy="1175.4" r="4.9"/>
<circle cx="366.3" cy="1152.3" r="4.9"/>
<circle cx="369.5" cy="1119.1" r="4.9"/>
<circle cx="373.1" cy="1081.4" r="4.9"/>
<circle cx="378.8" cy="1059.7" r="4.9"/>
<circle cx="382.8" cy="1057.6" r="4.9"/>
<circle cx="386.9" cy="1061.0" r="4.9"/>
<circle cx="394.6" cy="1078.7" r="4.9"/>
<circle cx="400.1" cy="1215.4" r="4.9"/>
<circle cx="408.3" cy="1325.9" r="4.9"/>
<circle cx="509.7" cy="1444.2" r="4.9"/>
<circle cx="513.3" cy="1422.4" r="4.9"/>
<circle cx="518.1" cy="1403.4" r="4.9"/>
<circle cx="543.6" cy="1392.4" r="4.9"/>
<circle cx="561.9" cy="1428.7" r="4.9"/>
<circle cx="691.5" cy="1444.2" r="4.9"/>
<circle cx="705.4" cy="1432.5" r="4.9"/>
<circle cx="715.5" cy="1436.9" r="4.9"/>
<circle cx="726.3" cy="1444.2" r="4.9"/>
<circle cx="736.6" cy="1444.2" r="4.9"/>
<circle cx="752.8" cy="1444.2" r="4.9"/>
<circle cx="745.7" cy="1421.6" r="4.9"/>
<circle cx="873.2" cy="1436.9" r="4.9"/>
<circle cx="880.7" cy="1438.2" r="4.9"/>
<circle cx="897.3" cy="1381.0" r="4.9"/>
<circle cx="904.4" cy="1367.4" r="4.9"/>
<circle cx="914.3" cy="1386.3" r="4.9"/>
<circle cx="917.7" cy="1402.8" r="4.9"/>
<circle cx="921.8" cy="1444.2" r="4.9"/>
<circle cx="927.2" cy="1444.2" r="4.9"/>
</g></g>
<rect x="134.4" y="1009.8" width="879.2" height="436.4" fill="none" stroke="#000" stroke-width="2.3"/>
<path d="M134.4,1444.20 h-11.2 M134.4,1371.80 h-11.2 M134.4,1299.40 h-11.2 M134.4,1227.00 h-11.2 M134.4,1154.60 h-11.2 M134.4,1082.20 h-11.2 M134.4,1009.80 h-11.2 M134.40,1446.1999999999998 v11.2 M310.14,1446.1999999999998 v11.2 M485.89,1446.1999999999998 v11.2 M662.11,1446.1999999999998 v11.2 M837.86,1446.1999999999998 v11.2 M1013.60,1446.1999999999998 v11.2" stroke="#000" stroke-width="2.3" fill="none"/>
<text transform="translate(112.4,1453.2) scale(1,0.96)" font-size="22.2" text-anchor="end" letter-spacing="0.15">0</text>
<text transform="translate(112.4,1380.8) scale(1,0.96)" font-size="22.2" text-anchor="end" letter-spacing="0.15">10</text>
<text transform="translate(112.4,1308.4) scale(1,0.96)" font-size="22.2" text-anchor="end" letter-spacing="0.15">20</text>
<text transform="translate(112.4,1236.0) scale(1,0.96)" font-size="22.2" text-anchor="end" letter-spacing="0.15">30</text>
<text transform="translate(112.4,1163.6) scale(1,0.96)" font-size="22.2" text-anchor="end" letter-spacing="0.15">40</text>
<text transform="translate(112.4,1091.2) scale(1,0.96)" font-size="22.2" text-anchor="end" letter-spacing="0.15">50</text>
<text transform="translate(112.4,1018.8) scale(1,0.96)" font-size="22.2" text-anchor="end" letter-spacing="0.15">60</text>
<text transform="translate(160.8,1035.8) scale(1,0.96)" font-size="22.2" text-anchor="start" letter-spacing="0.15">Frost site 30, pasture, elev: 478.4 m</text>
<text transform="translate(132.3,1483.7) rotate(-25) scale(1,0.96)" font-size="22.2" text-anchor="end" letter-spacing="0.1">01 Oct 2005</text>
<text transform="translate(308.0,1483.7) rotate(-25) scale(1,0.96)" font-size="22.2" text-anchor="end" letter-spacing="0.1">01 Oct 2006</text>
<text transform="translate(483.8,1483.7) rotate(-25) scale(1,0.96)" font-size="22.2" text-anchor="end" letter-spacing="0.1">01 Oct 2007</text>
<text transform="translate(660.0,1483.7) rotate(-25) scale(1,0.96)" font-size="22.2" text-anchor="end" letter-spacing="0.1">01 Oct 2008</text>
<text transform="translate(835.8,1483.7) rotate(-25) scale(1,0.96)" font-size="22.2" text-anchor="end" letter-spacing="0.1">01 Oct 2009</text>
<text transform="translate(1011.5,1483.7) rotate(-25) scale(1,0.96)" font-size="22.2" text-anchor="end" letter-spacing="0.1">01 Oct 2010</text>
</g>
<g id="panel5">
<rect x="1145.6" y="1009.8" width="352.5" height="436.4" fill="#e5e5e5"/>
<g clip-path="url(#c5)" fill="none" stroke-linejoin="round">
<path d="M1177.8,1444.2 L1178.5,1365.7 L1180.5,1325.0 L1181.9,1289.7 L1183.2,1300.5 L1185.3,1299.2 L1186.6,1316.8 L1188.7,1327.7 L1190.0,1342.6 L1191.4,1344.6 L1192.1,1300.5 L1193.7,1289.0 L1195.4,1306.0 L1196.8,1322.2 L1198.2,1303.3 L1199.5,1322.2 L1202.2,1331.7 L1203.2,1327.7 L1204.3,1349.4 L1205.9,1372.4 L1207.2,1405.0 L1208.6,1365.7 L1210.4,1333.1 L1212.4,1357.5 L1213.8,1334.5 L1216.2,1333.1 L1217.6,1316.8 L1219.2,1310.7 L1221.2,1318.2 L1222.6,1327.7 L1223.9,1358.9 L1225.3,1379.2 L1227.6,1360.9 L1229.0,1371.1 L1230.0,1406.4 L1230.7,1444.2" stroke="#ff0000" stroke-width="2.5" stroke-dasharray="9.35 4.2"/>
<path d="M1364.3,1444.2 L1365.0,1406.4 L1366.4,1379.2 L1368.4,1375.2 L1367.7,1392.8 L1369.8,1410.4 L1369.1,1379.2 L1370.4,1352.1 L1372.5,1348.0 L1373.6,1335.8 L1375.2,1325.0 L1376.8,1297.8 L1377.8,1277.8 L1378.8,1260.9 L1379.9,1247.3 L1381.9,1245.9 L1382.9,1238.5 L1383.6,1230.3 L1384.6,1229.0 L1386.3,1233.1 L1387.3,1242.6 L1388.0,1254.1 L1389.0,1271.0 L1389.7,1284.6 L1390.7,1296.1 L1391.1,1277.8 L1391.1,1257.5 L1391.4,1240.5 L1392.1,1228.3 L1393.8,1237.1 L1394.4,1248.0 L1395.5,1260.9 L1396.5,1271.0 L1398.2,1276.5 L1399.2,1288.0 L1399.9,1301.6 L1401.2,1318.5 L1402.3,1338.5 L1404.4,1365.7 L1405.7,1406.4 L1406.7,1444.2" stroke="#ff0000" stroke-width="2.5" stroke-dasharray="9.35 4.2"/>
<path d="M1530.0,1444.2 L1530.4,1413.1 L1531.4,1398.2 L1532.3,1390.1 L1533.4,1378.5 L1534.5,1392.8 L1535.0,1406.4 L1535.9,1426.7 L1536.1,1444.2" stroke="#ff0000" stroke-width="2.5" stroke-dasharray="9.35 4.2"/>
<path d="M1705.4,1444.2 L1705.7,1392.8 L1706.1,1352.1 L1706.8,1323.6 L1708.1,1337.2 L1710.4,1339.9 L1712.5,1346.7 L1713.2,1360.2 L1713.8,1328.4 L1715.2,1342.6 L1716.6,1360.2 L1719.0,1352.1 L1720.6,1365.7 L1723.3,1387.4 L1725.8,1379.2 L1726.7,1392.8 L1728.1,1406.4 L1729.8,1419.9 L1730.4,1444.2" stroke="#ff0000" stroke-width="2.5" stroke-dasharray="9.35 4.2"/>
<path d="M1887.7,1444.2 L1888.0,1406.4 L1888.8,1365.7 L1890.2,1348.0 L1892.1,1362.9 L1892.5,1344.0 L1893.8,1337.2 L1897.2,1339.9 L1898.3,1325.0 L1901.0,1339.9 L1900.0,1319.5 L1901.6,1306.0 L1901.3,1295.1 L1903.8,1303.3 L1906.5,1318.2 L1907.4,1293.8 L1912.2,1274.1 L1914.9,1282.9 L1917.3,1300.5 L1919.6,1322.2 L1921.7,1352.1 L1923.0,1386.0 L1924.4,1419.9 L1925.1,1444.2" stroke="#ff0000" stroke-width="2.5" stroke-dasharray="9.35 4.2"/>
<path d="M1175.8,1444.2 L1176.5,1426.7 L1179.2,1406.4 L1181.9,1392.1 L1185.3,1392.8 L1188.0,1398.2 L1192.1,1401.6 L1194.1,1401.6 L1196.8,1407.0 L1198.2,1405.7 L1200.5,1410.4 L1203.6,1409.7 L1205.6,1415.9 L1207.7,1422.6 L1210.4,1416.5 L1212.7,1419.9 L1215.8,1417.9 L1218.2,1415.9 L1220.5,1418.6 L1223.0,1424.0 L1224.3,1430.8 L1224.6,1444.2 L1226.0,1441.6 L1227.6,1432.1 L1229.0,1437.6 L1229.4,1444.2" stroke="#0000ff" stroke-width="2.5"/>
<path d="M1358.2,1444.2 L1358.9,1426.7 L1360.9,1410.4 L1363.7,1400.9 L1365.7,1395.5 L1368.4,1396.2 L1371.1,1394.1 L1375.2,1392.8 L1379.3,1389.4 L1383.3,1387.4 L1386.7,1390.1 L1390.1,1399.6 L1394.2,1413.1 L1397.6,1425.3 L1399.6,1436.2 L1399.9,1444.2" stroke="#0000ff" stroke-width="2.5"/>
<path d="M1703.0,1444.2 L1705.0,1426.7 L1706.0,1411.8 L1707.1,1407.0 L1709.8,1409.1 L1712.5,1417.2 L1715.2,1429.4 L1716.6,1444.2" stroke="#0000ff" stroke-width="2.5"/>
<path d="M1888.4,1444.2 L1889.1,1430.8 L1891.5,1428.7 L1893.2,1422.0 L1895.9,1422.6 L1897.9,1417.9 L1900.0,1415.9 L1902.7,1422.0 L1904.7,1418.6 L1906.5,1422.0 L1908.1,1415.9 L1910.5,1415.2 L1912.8,1413.8 L1915.1,1415.2 L1917.3,1419.2 L1919.2,1422.6 L1920.3,1429.4 L1921.0,1438.9 L1921.3,1444.2" stroke="#0000ff" stroke-width="2.5"/>
<g fill="#000" stroke="none">
<circle cx="1183.9" cy="1444.2" r="4.9"/>
<circle cx="1190.7" cy="1444.2" r="4.9"/>
<circle cx="1197.5" cy="1444.2" r="4.9"/>
<circle cx="1204.3" cy="1444.2" r="4.9"/>
<circle cx="1214.0" cy="1432.4" r="4.9"/>
<circle cx="1221.5" cy="1429.4" r="4.9"/>
<circle cx="1227.6" cy="1444.2" r="4.9"/>
<circle cx="1236.1" cy="1444.2" r="4.9"/>
<circle cx="1364.1" cy="1427.4" r="4.9"/>
<circle cx="1365.7" cy="1435.5" r="4.9"/>
<circle cx="1370.7" cy="1417.2" r="4.9"/>
<circle cx="1373.4" cy="1404.3" r="4.9"/>
<circle cx="1377.9" cy="1401.2" r="4.9"/>
<circle cx="1380.6" cy="1386.0" r="4.9"/>
<circle cx="1384.7" cy="1385.3" r="4.9"/>
<circle cx="1390.8" cy="1392.1" r="4.9"/>
<circle cx="1394.2" cy="1396.2" r="4.9"/>
<circle cx="1397.8" cy="1400.3" r="4.9"/>
<circle cx="1406.4" cy="1422.2" r="4.9"/>
<circle cx="1528.4" cy="1444.2" r="4.9"/>
<circle cx="1540.9" cy="1444.2" r="4.9"/>
<circle cx="1555.5" cy="1444.2" r="4.9"/>
<circle cx="1566.4" cy="1444.2" r="4.9"/>
<circle cx="1701.4" cy="1444.2" r="4.9"/>
<circle cx="1710.0" cy="1444.2" r="4.9"/>
<circle cx="1719.7" cy="1444.2" r="4.9"/>
<circle cx="1730.1" cy="1444.2" r="4.9"/>
<circle cx="1747.8" cy="1444.2" r="4.9"/>
<circle cx="1763.6" cy="1444.2" r="4.9"/>
<circle cx="1895.2" cy="1444.2" r="4.9"/>
<circle cx="1902.0" cy="1444.2" r="4.9"/>
<circle cx="1908.8" cy="1436.9" r="4.9"/>
<circle cx="1922.1" cy="1444.2" r="4.9"/>
<circle cx="1932.5" cy="1444.2" r="4.9"/>
</g></g>
<rect x="1145.6" y="1009.8" width="879.2" height="436.4" fill="none" stroke="#000" stroke-width="2.3"/>
<path d="M1145.6,1444.20 h-11.2 M1145.6,1371.80 h-11.2 M1145.6,1299.40 h-11.2 M1145.6,1227.00 h-11.2 M1145.6,1154.60 h-11.2 M1145.6,1082.20 h-11.2 M1145.6,1009.80 h-11.2 M1145.60,1446.1999999999998 v11.2 M1321.34,1446.1999999999998 v11.2 M1497.09,1446.1999999999998 v11.2 M1673.31,1446.1999999999998 v11.2 M1849.06,1446.1999999999998 v11.2 M2024.80,1446.1999999999998 v11.2" stroke="#000" stroke-width="2.3" fill="none"/>
<text transform="translate(1123.6,1453.2) scale(1,0.96)" font-size="22.2" text-anchor="end" letter-spacing="0.15">0</text>
<text transform="translate(1123.6,1380.8) scale(1,0.96)" font-size="22.2" text-anchor="end" letter-spacing="0.15">10</text>
<text transform="translate(1123.6,1308.4) scale(1,0.96)" font-size="22.2" text-anchor="end" letter-spacing="0.15">20</text>
<text transform="translate(1123.6,1236.0) scale(1,0.96)" font-size="22.2" text-anchor="end" letter-spacing="0.15">30</text>
<text transform="translate(1123.6,1163.6) scale(1,0.96)" font-size="22.2" text-anchor="end" letter-spacing="0.15">40</text>
<text transform="translate(1123.6,1091.2) scale(1,0.96)" font-size="22.2" text-anchor="end" letter-spacing="0.15">50</text>
<text transform="translate(1123.6,1018.8) scale(1,0.96)" font-size="22.2" text-anchor="end" letter-spacing="0.15">60</text>
<text transform="translate(1172.0,1035.8) scale(1,0.96)" font-size="22.2" text-anchor="start" letter-spacing="0.15">Frost site 40, deciduous forest, elev: 544.6 m</text>
<text transform="translate(1143.5,1483.7) rotate(-25) scale(1,0.96)" font-size="22.2" text-anchor="end" letter-spacing="0.1">01 Oct 2005</text>
<text transform="translate(1319.2,1483.7) rotate(-25) scale(1,0.96)" font-size="22.2" text-anchor="end" letter-spacing="0.1">01 Oct 2006</text>
<text transform="translate(1495.0,1483.7) rotate(-25) scale(1,0.96)" font-size="22.2" text-anchor="end" letter-spacing="0.1">01 Oct 2007</text>
<text transform="translate(1671.2,1483.7) rotate(-25) scale(1,0.96)" font-size="22.2" text-anchor="end" letter-spacing="0.1">01 Oct 2008</text>
<text transform="translate(1847.0,1483.7) rotate(-25) scale(1,0.96)" font-size="22.2" text-anchor="end" letter-spacing="0.1">01 Oct 2009</text>
<text transform="translate(2022.7,1483.7) rotate(-25) scale(1,0.96)" font-size="22.2" text-anchor="end" letter-spacing="0.1">01 Oct 2010</text>
</g>
<text transform="translate(317.3,187.3) rotate(-30) scale(1,0.96)" font-size="22.2" text-anchor="middle" letter-spacing="0.15" style="fill:#4d4d4d;stroke:#4d4d4d">Shading indicates</text>
<text transform="translate(328.4,211.1) rotate(-30) scale(1,0.96)" font-size="22.2" text-anchor="middle" letter-spacing="0.15" style="fill:#4d4d4d;stroke:#4d4d4d">calibration period</text>
<text transform="translate(61.2,725.6) rotate(-90) scale(1,0.96)" font-size="25.6" text-anchor="middle" letter-spacing="0.17">Frost depth (cm)</text>
<g id="legend">
<rect x="684.2" y="1556.0" width="698.0" height="40.3" rx="5" ry="5" fill="#fff" stroke="#dadada" stroke-width="3.5"/>
<path d="M692.8,1574.5 H757.1" stroke="#ff0000" stroke-width="2.5" stroke-dasharray="9.35 4.2" fill="none"/>
<text transform="translate(777.7,1582.2) scale(1,0.96)" font-size="22.2" text-anchor="start" letter-spacing="0.15">CFGI</text>
<path d="M873.7,1574.5 H943.4" stroke="#0000ff" stroke-width="2.5" fill="none"/>
<text transform="translate(959.0,1582.2) scale(1,0.96)" font-size="22.2" text-anchor="start" letter-spacing="0.3">modCFGI</text>
<circle cx="1139.7" cy="1574.5" r="5.1" fill="#000"/>
<text transform="translate(1190.3,1582.2) scale(1,0.96)" font-size="22.2" text-anchor="start" letter-spacing="0.15">Obs frost depth</text>
</g>
</svg></body></html>
